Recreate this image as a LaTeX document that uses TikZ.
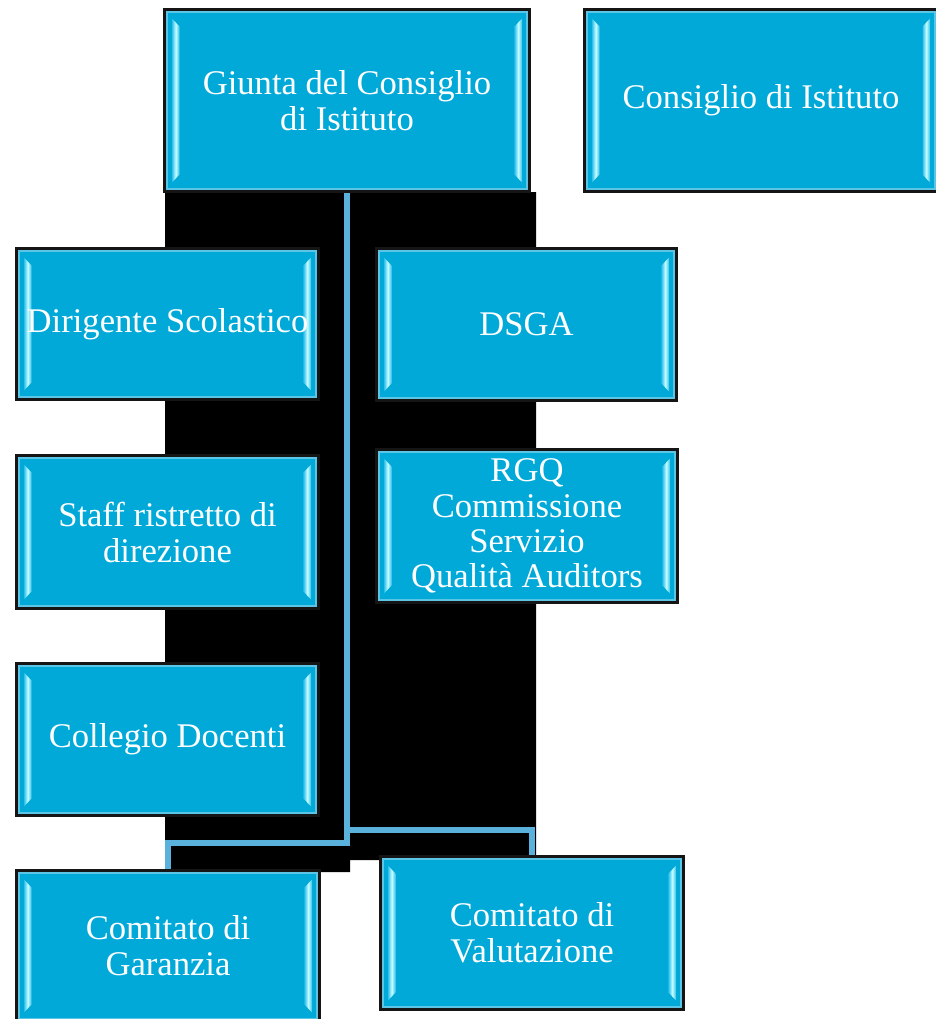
\documentclass[tikz,border=0pt]{standalone}
\usepackage{fontspec}
\setmainfont{Liberation Serif}
\usetikzlibrary{calc}
\definecolor{boxfill}{HTML}{00A9D8}
\definecolor{rimcol}{HTML}{5CC4E4}
\definecolor{bevlo}{HTML}{30C0EC}
\definecolor{bevhi}{HTML}{C8FEFF}
\definecolor{conncol}{HTML}{5AB2DC}
\definecolor{bordercol}{HTML}{151515}
\pgfdeclarelayer{bgzero}
\pgfdeclarelayer{bgone}
\pgfsetlayers{bgzero,bgone,main}
\begin{document}
\begin{tikzpicture}[x=1pt,y=-1pt,
  orgbox/.style={rectangle, draw=bordercol, line width=3pt, fill=boxfill,
    text=white, align=center, font=\fontsize{34.6}{36}\selectfont, inner sep=0pt,
    path picture={
      \coordinate (pnw) at (path picture bounding box.north west);
      \coordinate (pse) at (path picture bounding box.south east);
      \coordinate (psw) at (path picture bounding box.south west);
      \coordinate (pne) at (path picture bounding box.north east);
      \draw[rimcol, line width=2.2pt] ($(pnw)+(2.5,2.5)$) rectangle ($(pse)+(-2.5,-2.5)$);
      \shade[left color=bevlo, right color=bevlo, middle color=bevhi]
        ($(pnw)+(7.5,9)$) -- ($(pnw)+(15,17)$) -- ($(psw)+(15,-17)$) -- ($(psw)+(7.5,-9)$) -- cycle;
      \shade[left color=bevlo, right color=bevlo, middle color=bevhi]
        ($(pne)+(-7.5,9)$) -- ($(pne)+(-15,17)$) -- ($(pse)+(-15,-17)$) -- ($(pse)+(-7.5,-9)$) -- cycle;
    }},
  conn/.style={draw=conncol, line width=6.5pt}]
\useasboundingbox (0,0) rectangle (936,1019);

\node[orgbox, minimum width=365pt, minimum height=182pt] (giunta) at (347,100.5) {Giunta del Consiglio\\di Istituto};
\node[orgbox, minimum width=353pt, minimum height=182pt] (consiglio) at (761,100.5) {Consiglio di Istituto};
\node[orgbox, minimum width=302pt, minimum height=151pt] (dirigente) at (167.5,324) {Dirigente Scolastico};
\node[orgbox, minimum width=300pt, minimum height=152pt] (dsga) at (526.5,324.5) {DSGA};
\node[orgbox, minimum width=302pt, minimum height=153pt] (staff) at (167.5,532) {Staff ristretto di\\direzione};
\node[orgbox, minimum width=301pt, minimum height=153pt, font=\fontsize{34.6}{35.3}\selectfont] (rgq) at (527,526) {RGQ\\Commissione\\Servizio\\Qualità Auditors};
\node[orgbox, minimum width=302pt, minimum height=152pt] (collegio) at (167.5,739.5) {Collegio Docenti};
\node[orgbox, minimum width=303pt, minimum height=151pt] (garanzia) at (168,946) {Comitato di\\Garanzia};
\node[orgbox, minimum width=303pt, minimum height=153pt] (valutazione) at (532,933) {Comitato di\\Valutazione};

\begin{pgfonlayer}{bgzero}
  \fill[white] (0,0) rectangle (936,1019);
  \fill[black] (165,192) -- (536,192) -- (536,860) -- (350,860) -- (350,872) -- (165,872) -- cycle;
\end{pgfonlayer}
\begin{pgfonlayer}{bgone}
  \coordinate (jl) at (giunta.south |- 0,843);
  \coordinate (jr) at (giunta.south |- 0,830);
  \draw[conn] (giunta.south) -- (jl) -| (garanzia.north);
  \draw[conn] (jr) -| (valutazione.north);
\end{pgfonlayer}
\end{tikzpicture}
\end{document}
